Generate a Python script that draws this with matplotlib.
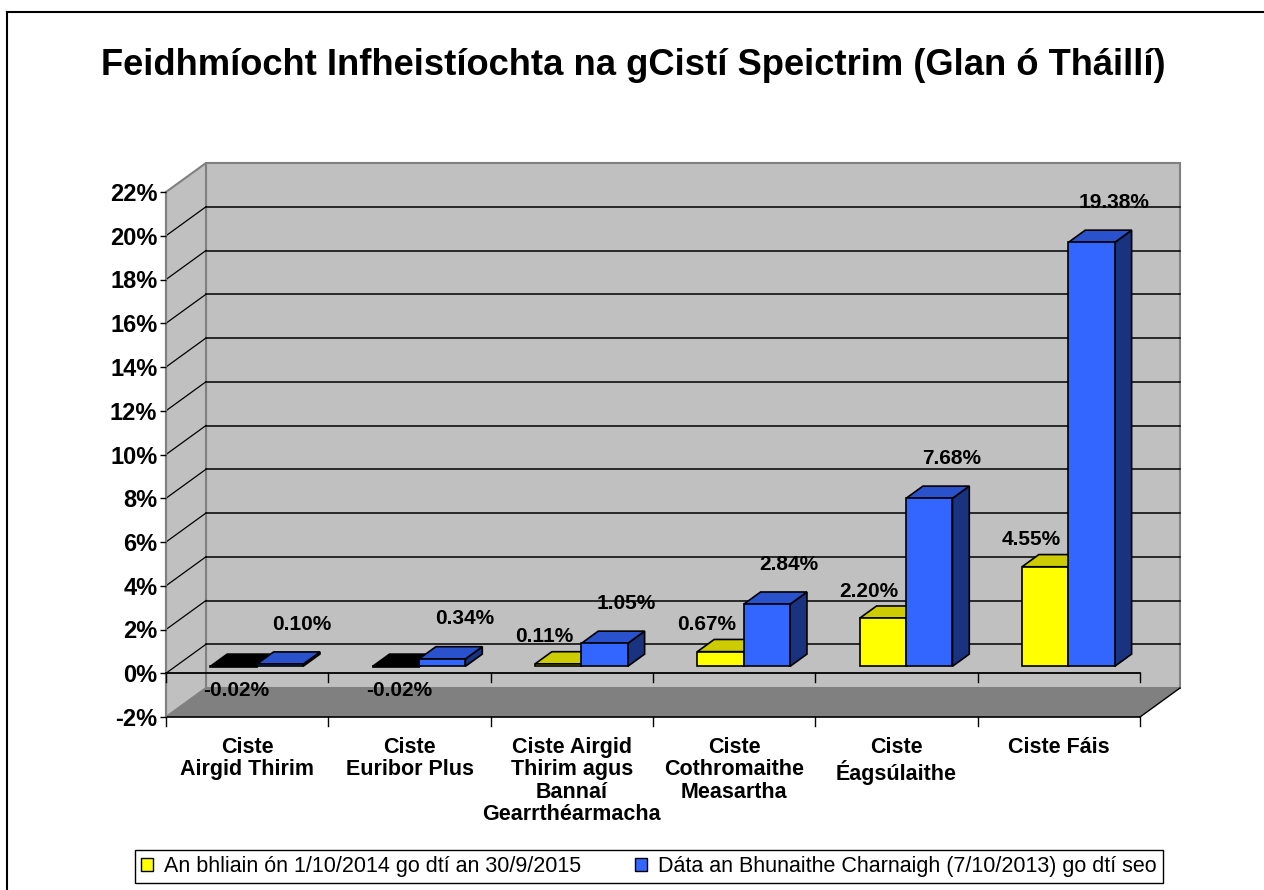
import matplotlib
matplotlib.use("Agg")
import matplotlib.pyplot as plt
from matplotlib.patches import Polygon, Patch
from matplotlib.lines import Line2D

plt.rcParams['font.family'] = ['Liberation Sans', 'DejaVu Sans']

# data
categories = ["Ciste\nAirgid Thirim", "Ciste\nEuribor Plus",
              "Ciste Airgid\nThirim agus\nBannaí\nGearrthéarmacha",
              "Ciste\nCothromaithe\nMeasartha", "Ciste\nÉagsúlaithe", "Ciste Fáis"]
year_vals = [-0.02, -0.02, 0.11, 0.67, 2.20, 4.55]
incep_vals = [0.10, 0.34, 1.05, 2.84, 7.68, 19.38]
series_names = ["An bhliain ón 1/10/2014 go dtí an 30/9/2015",
                "Dáta an Bhunaithe Charnaigh (7/10/2013) go dtí seo"]
yticks = list(range(-2, 23, 2))
title = "Feidhmíocht Infheistíochta na gCistí Speictrim (Glan ó Tháillí)"

W, H = 1264, 890
fig = plt.figure(figsize=(W / 100, H / 100), dpi=100)
fig.patch.set_facecolor('white')

ax = fig.add_axes([166 / W, (H - 717) / H, (1140 - 166) / W, (717 - 192) / H])
ax.set_xlim(0, 6)
ax.set_ylim(-2, 22)
ax.patch.set_visible(False)
for s in ax.spines.values():
    s.set_visible(False)

# depth of the 3d box, pixels -> data units
DX = 40 / 974 * 6
DY = 29 / 525 * 24


def pts(corners):
    return [(x + d * DX, y + d * DY) for x, y, d in corners]


def poly(corners, fc, ec='none', lw=0, z=1):
    ax.add_patch(Polygon(pts(corners), closed=True, facecolor=fc, edgecolor=ec,
                         linewidth=lw, zorder=z, clip_on=False))


# walls and floor
poly([(0, -2, 1), (6, -2, 1), (6, 22, 1), (0, 22, 1)], '#C0C0C0', '#808080', 1.5, 0)
poly([(0, -2, 0), (0, -2, 1), (0, 22, 1), (0, 22, 0)], '#C0C0C0', '#808080', 1.5, 0)
poly([(0, -2, 0), (6, -2, 0), (6, -2, 1), (0, -2, 1)], '#808080', 'none', 0, 0.5)

# gridlines
for t in yticks[1:-1]:
    ax.plot([DX, 6 + DX], [t + DY, t + DY], color='black', lw=1.1, zorder=0.8, clip_on=False)
    ax.plot([0, DX], [t, t + DY], color='black', lw=0.9, zorder=0.8, clip_on=False)

# floor edges
ax.plot([0, 6], [-2, -2], color='black', lw=1.2, zorder=0.9, clip_on=False)
ax.plot([6, 6 + DX], [-2, -2 + DY], color='black', lw=1.0, zorder=0.9, clip_on=False)
ax.plot([0, 0], [-2, 22], color='#808080', lw=1.5, zorder=0.9, clip_on=False)

# bars
bw = 1 / 3.5
d0, d1 = 0.24, 0.66
yel = ('#FFFF00', '#CCCC00', '#808000')
blu = ('#3366FF', '#2952CC', '#1A3380')


def bar3d(x0, x1, v, cols, z):
    if v < 0:
        cols = ('black', 'black', 'black')
    lo, hi = min(0, v), max(0, v)
    kw = dict(ec='black', lw=1.2, z=z)
    poly([(x1, lo, d0), (x1, hi, d0), (x1, hi, d1), (x1, lo, d1)], cols[2], **kw)
    poly([(x0, hi, d0), (x1, hi, d0), (x1, hi, d1), (x0, hi, d1)], cols[1], **kw)
    poly([(x0, lo, d0), (x1, lo, d0), (x1, hi, d0), (x0, hi, d0)], cols[0], **kw)


px = 72 / 100
for k in range(6):
    c = k + 0.5
    bar3d(c - bw, c, year_vals[k], yel, 2 + k * 0.1)
    bar3d(c, c + bw, incep_vals[k], blu, 2.05 + k * 0.1)
    yv = year_vals[k]
    off = (3 * px, -24 * px) if yv < 0 else (-14 * px, 27 * px)
    ax.annotate(f"{yv:.2f}%", (c - bw / 2 + d0 * DX, max(yv, 0) + d0 * DY),
                xytext=off, textcoords='offset points', ha='center', va='center',
                fontsize=15, fontweight='bold', zorder=5, annotation_clip=False)
    bv = incep_vals[k]
    ax.annotate(f"{bv:.2f}%", (c + bw / 2 + d0 * DX, bv + d0 * DY),
                xytext=(22 * px, 40 * px), textcoords='offset points', ha='center',
                va='center', fontsize=15, fontweight='bold', zorder=5,
                annotation_clip=False)

# front zero line and category ticks
ax.plot([0, 6], [0, 0], color='black', lw=1.3, zorder=3, clip_on=False)
tk = 9 * 24 / 525
for k in range(7):
    ax.plot([k, k], [0, -tk], color='black', lw=1.0, zorder=3, clip_on=False)
    ax.plot([k, k], [-2, -2 - tk], color='black', lw=1.0, zorder=3, clip_on=False)

# axes labels
ax.set_yticks(yticks)
ax.set_yticklabels([f"{t}%" for t in yticks], fontsize=17, fontweight='bold')
ax.tick_params(axis='y', length=4.3, width=1, color='black', pad=2)
ax.set_xticks([k + 0.5 for k in range(6)])
ax.set_xticklabels(categories, fontsize=15.5, fontweight='bold', linespacing=1.08)
ax.tick_params(axis='x', length=0, pad=14.5)

fig.text(633.5 / W, (H - 75) / H, title, ha='center', va='baseline',
         fontsize=26.2, fontweight='bold')

handles = [Patch(facecolor='#FFFF00', edgecolor='black'),
           Patch(facecolor='#3366FF', edgecolor='black')]
leg = fig.legend(handles, series_names, loc='center',
                 bbox_to_anchor=(135 / W, (H - 886) / H, 1028 / W, 39 / H),
                 mode='expand', ncol=2, frameon=True, fancybox=False,
                 edgecolor='black', framealpha=1, fontsize=15.5,
                 handlelength=0.55, handleheight=0.55, handletextpad=0.5,
                 borderaxespad=0, borderpad=0.3)
leg.get_frame().set_linewidth(1.0)

# outer border (cropped at right/bottom)
fig.add_artist(Line2D([7 / W, 7 / W], [0, (H - 12) / H], transform=fig.transFigure,
                      color='black', lw=1.5))
fig.add_artist(Line2D([7 / W, 1], [(H - 12) / H, (H - 12) / H], transform=fig.transFigure,
                      color='black', lw=1.5))

fig.savefig("out.png", dpi=100)
